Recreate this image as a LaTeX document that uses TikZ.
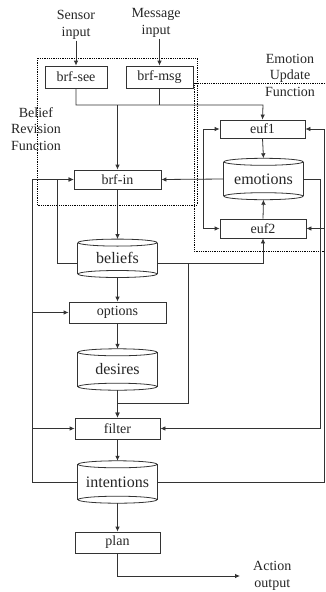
\documentclass[tikz,border=0pt]{standalone}
\usepackage{fontspec}
\setmainfont{Liberation Serif}
\usetikzlibrary{arrows.meta,calc}
\tikzset{
  ln/.style={draw=black!80,line width=0.8pt},
  arr/.style={ln,-{Latex[length=5pt,width=4.5pt]}},
  boxn/.style={draw=black!80,line width=0.8pt,rectangle,inner sep=0pt,font=\fontsize{14}{16.5}\selectfont,text=black!85},
  cyln/.style={rectangle,inner sep=0pt,minimum width=79pt,font=\fontsize{16}{18}\selectfont,text=black!85},
  lbl/.style={inner sep=1pt,align=center,font=\fontsize{14}{16.5}\selectfont,text=black!85},
  dotbox/.style={draw=black,line width=0.6pt,dash pattern=on 0.9pt off 0.9pt}
}
\newcommand\mycyl[1]{%
  \draw[ln] ($(#1.north)+(0,3.5)$) ellipse [x radius=39.5pt, y radius=3.5pt];
  \draw[ln] ($(#1.south)+(0,-3.5)$) ellipse [x radius=39.5pt, y radius=3.5pt];
  \draw[ln] ($(#1.north west)+(0,3.5)$) -- ($(#1.south west)+(0,-3.5)$);
  \draw[ln] ($(#1.north east)+(0,3.5)$) -- ($(#1.south east)+(0,-3.5)$);}
\begin{document}
\begin{tikzpicture}[x=1pt,y=-1pt]
\useasboundingbox (0,0) rectangle (325,592);
% dotted function boxes
\draw[dotbox] (37,58) rectangle (197,205);
\draw[dotbox] (325,83) -- (194,83) -- (194,251) -- (325,251);
% labels
\node[lbl] (sens) at (76,25) {Sensor\\input};
\node[lbl] (msg) at (156,23) {Message\\input};
\node[lbl] (brflbl) at (36,129) {Belief\\Revision\\Function};
\node[lbl] (euflbl) at (290,75) {Emotion\\Update\\Function};
\node[lbl,anchor=west,inner xsep=13pt] (act) at (240,576) {Action\\output};
% boxes
\node[boxn,minimum width=62pt,minimum height=22pt] (brfsee) at (76,77) {brf-see};
\node[boxn,minimum width=67pt,minimum height=22pt] (brfmsg) at (159.5,77) {brf-msg};
\node[boxn,minimum width=87pt,minimum height=19pt] (brfin) at (117.5,179.5) {brf-in};
\node[boxn,minimum width=85pt,minimum height=18pt] (euf1) at (262.5,129) {euf1};
\node[boxn,minimum width=86pt,minimum height=19pt] (euf2) at (263,228.5) {euf2};
\node[boxn,minimum width=97pt,minimum height=21pt] (options) at (117.5,312.5) {options};
\node[boxn,minimum width=85pt,minimum height=21pt] (filter) at (117.5,428.5) {filter};
\node[boxn,minimum width=85pt,minimum height=21pt] (plan) at (117.5,542.5) {plan};
% cylinders
\node[cyln,minimum height=41pt] (emotions) at (263.5,179) {emotions};
\node[cyln,minimum height=38pt] (beliefs) at (117.5,258.3) {beliefs};
\node[cyln,minimum height=41pt] (desires) at (117.5,369.5) {desires};
\node[cyln,minimum height=42pt] (intentions) at (117.5,482) {intentions};
\mycyl{emotions}\mycyl{beliefs}\mycyl{desires}\mycyl{intentions}
% coordinates
\coordinate (busR) at (263,105);
\coordinate (ej) at (203,179);
\coordinate (lbus) at (32,179.5);
\coordinate (lin) at (57,179.5);
\coordinate (bj) at (188,263.3);
\coordinate (bj2) at (188,403);
\coordinate (r1) at (320,0);
\coordinate (r2) at (324,0);
% inputs
\draw[arr] (sens.south) -- (brfsee.north);
\draw[arr] (msg.south -| brfmsg.north) -- (brfmsg.north);
\draw[arr] (brfsee.south) |- (busR) -- (euf1.north);
\draw[ln] (brfmsg.south) -- (brfmsg.south |- busR);
\draw[arr] (brfin.north |- busR) -- (brfin.north);
% emotion loop
\draw[arr] (euf1.south) -- (emotions.north);
\draw[arr] (euf2.north) -- (emotions.south);
\draw[arr] (emotions.west) -- (brfin.east);
\draw[arr] (ej) |- (euf1.west);
\draw[arr] (ej) |- (euf2.west);
\draw[arr] (emotions.east) -| (filter.east -| r1) -- (filter.east);
% main chain
\draw[arr] (brfin.south) -- (beliefs.north);
\draw[arr] (beliefs.south) -- (options.north);
\draw[arr] (options.south) -- (desires.north);
\draw[arr] (desires.south) -- (filter.north);
\draw[arr] (filter.south) -- (intentions.north);
\draw[arr] (intentions.south) -- (plan.north);
\draw[arr] (plan.south) |- (act.west);
% beliefs feedback
\draw[arr] ($(beliefs.west)+(0,5)$) -| (lin) -- (brfin.west);
\draw[arr] ($(beliefs.east)+(0,5)$) -| (euf2.south);
\draw[arr] (bj) -- (bj2) -| (filter.north);
% intentions feedback
\draw[arr] (intentions.west) -| (lbus) -- (brfin.west);
\draw[arr] (options.west -| lbus) -- (options.west);
\draw[arr] (filter.west -| lbus) -- (filter.west);
\draw[arr] (intentions.east) -| (euf1.east -| r2) -- (euf1.east);
\draw[arr] (euf2.east -| r2) -- (euf2.east);
\end{tikzpicture}
\end{document}
